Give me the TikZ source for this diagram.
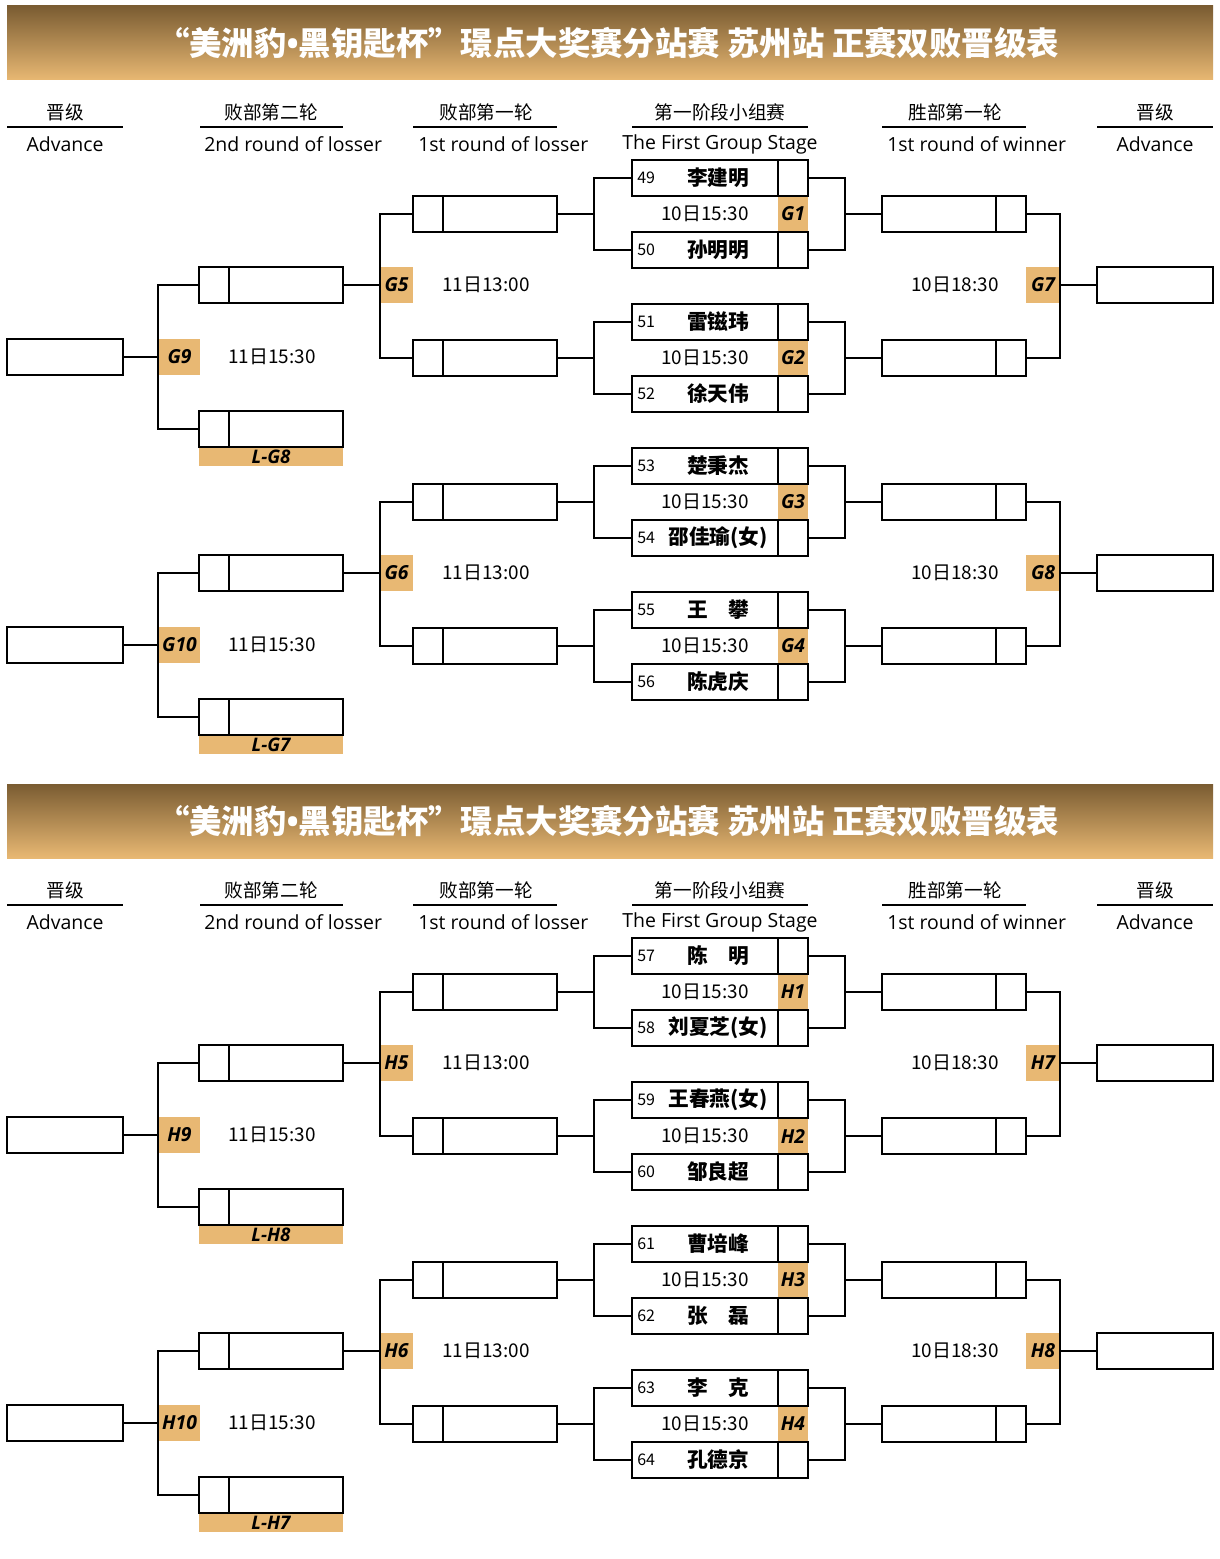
\documentclass[tikz,border=0pt]{standalone}
\usepackage{fontspec}
\setmainfont{Noto Sans CJK SC}
\newfontfamily\gfont{Open Sans}
\definecolor{gold}{RGB}{232,184,115}
\definecolor{hdrtop}{RGB}{122,92,50}
\definecolor{hdrbot}{RGB}{232,184,115}
\tikzset{
 bx/.style={draw=black, line width=0.8pt, inner sep=0pt, minimum height=27pt},
 wd/.style={minimum width=#1*0.75pt},
 gcell/.style={fill=gold, inner sep=0pt, minimum height=27pt, minimum width=#1*0.75pt, font=\gfont\bfseries\itshape\fontsize{14.5}{14.5}\selectfont},
 band/.style={fill=gold, inner sep=0pt, minimum height=13.5pt, minimum width=108pt, font=\gfont\bfseries\itshape\fontsize{14}{14}\selectfont},
 br/.style={line width=2.2pt},
 hrule/.style={line width=1.8pt},
 seedt/.style={inner sep=0pt, anchor=west, font=\fontsize{12}{12}\selectfont},
 pname/.style={inner sep=0pt, font=\bfseries\fontsize{15.5}{16}\selectfont},
 timet/.style={inner sep=0pt, font=\fontsize{14.2}{15}\selectfont},
 hd/.style={inner sep=0pt, font=\fontsize{14}{15}\selectfont},
 he/.style={inner sep=0pt, font=\gfont\fontsize{14.6}{16}\selectfont},
 ttl/.style={inner sep=0pt, text=white, font=\bfseries\fontsize{24.3}{26}\selectfont},
}
\newcommand\grp[7]{%
 \node[timet] (#1t#2) at (705,#3+54) {10日15:30};
 \node[gcell=30] (#1g#2) at (793,#3+54) {#1#2};
 \node[bx,wd=146] (#1na#2) at (705,#3+18) {};
 \node[bx,wd=30] (#1sa#2) at (793,#3+18) {};
 \node[seedt] (#1ka#2) at (637,#3+18) {#4};
 \node[pname] (#1ma#2) at (718,#3+18) {#5};
 \node[bx,wd=146] (#1nb#2) at (705,#3+90) {};
 \node[bx,wd=30] (#1sb#2) at (793,#3+90) {};
 \node[seedt] (#1kb#2) at (637,#3+90) {#6};
 \node[pname] (#1mb#2) at (718,#3+90) {#7};
 \node[bx,wd=30] (#1ls#2) at (428,#3+54) {};
 \node[bx,wd=114] (#1lw#2) at (500,#3+54) {};
 \node[bx,wd=114] (#1wa#2) at (939,#3+54) {};
 \node[bx,wd=30] (#1ws#2) at (1011,#3+54) {};
 \coordinate (#1lb#2) at (594,#3+54);
 \coordinate (#1rb#2) at (845,#3+54);
 \draw[br] (#1na#2.west) -| (#1lb#2) |- (#1nb#2.west);
 \draw[br] (#1lb#2) -- (#1lw#2.east);
 \draw[br] (#1sa#2.east) -| (#1rb#2) |- (#1sb#2.east);
 \draw[br] (#1rb#2) -- (#1wa#2.west);
}
\newcommand\pair[9]{%
 \node[gcell=33] (#1g#3) at (396.5,285+#2) {#1#3};
 \node[timet] (#1t#3) at (486,285+#2) {11日13:00};
 \node[bx,wd=30] (#1as#7) at (214,285+#2) {};
 \node[bx,wd=114] (#1aw#7) at (286,285+#2) {};
 \node[band] (#1bd#7) at (271,457+#2) {L-#1#6};
 \node[bx,wd=30] (#1bs#7) at (214,429+#2) {};
 \node[bx,wd=114] (#1bw#7) at (286,429+#2) {};
 \node[gcell=41] (#1g#5) at (179.5,357+#2) {#1#5};
 \node[timet] (#1t#5) at (272,357+#2) {11日15:30};
 \node[bx,wd=116] (#1al#7) at (65,357+#2) {};
 \node[gcell=34] (#1g#4) at (1043,285+#2) {#1#4};
 \node[timet] (#1t#4) at (955,285+#2) {10日18:30};
 \node[bx,wd=116] (#1ar#7) at (1155,285+#2) {};
 \coordinate (#1lp#7) at (380,285+#2);
 \coordinate (#1fp#7) at (158,357+#2);
 \coordinate (#1wp#7) at (1060,285+#2);
 \draw[br] (#1ls#8.west) -| (#1lp#7) |- (#1ls#9.west);
 \draw[br] (#1lp#7) -- (#1aw#7.east);
 \draw[br] (#1as#7.west) -| (#1fp#7) |- (#1bs#7.west);
 \draw[br] (#1fp#7) -- (#1al#7.east);
 \draw[br] (#1ws#8.east) -| (#1wp#7) |- (#1ws#9.east);
 \draw[br] (#1wp#7) -- (#1ar#7.west);
}
\newcommand\half[9]{%
 \shade[top color=hdrtop, bottom color=hdrbot] (7,6) rectangle (1213,80);
 \node[ttl] (#1title) at (608,43) {“美洲豹{\gfont\bfseries •}黑钥匙杯”璟点大奖赛分站赛 苏州站 正赛双败晋级表};
 \node[hd] (#1h1) at (65,112) {晋级};
 \node[he] (#1e1) at (65,144) {Advance};
 \draw[hrule] (7,127) -- (123,127);
 \node[hd] (#1h2) at (271,112) {败部第二轮};
 \node[he,anchor=west] (#1e2) at (204,144) {2nd round of losser};
 \draw[hrule] (200,127) -- (343,127);
 \node[hd] (#1h3) at (486,112) {败部第一轮};
 \node[he,anchor=west] (#1e3) at (418,144) {1st round of losser};
 \draw[hrule] (413,127) -- (557,127);
 \node[hd] (#1h4) at (720,112) {第一阶段小组赛};
 \node[he] (#1e4) at (720,144) {The First Group Stage};
 \draw[hrule] (632,127) -- (808,127);
 \node[hd] (#1h5) at (955,112) {胜部第一轮};
 \node[he,anchor=west] (#1e5) at (887,144) {1st round of winner};
 \draw[hrule] (882,127) -- (1026,127);
 \node[hd] (#1h6) at (1155,112) {晋级};
 \node[he] (#1e6) at (1155,144) {Advance};
 \draw[hrule] (1097,127) -- (1213,127);
 \grp{#1}{1}{160}{\the\numexpr\seedbase+0\relax}{#2}{\the\numexpr\seedbase+1\relax}{#3}
 \grp{#1}{2}{304}{\the\numexpr\seedbase+2\relax}{#4}{\the\numexpr\seedbase+3\relax}{#5}
 \grp{#1}{3}{448}{\the\numexpr\seedbase+4\relax}{#6}{\the\numexpr\seedbase+5\relax}{#7}
 \grp{#1}{4}{592}{\the\numexpr\seedbase+6\relax}{#8}{\the\numexpr\seedbase+7\relax}{#9}
 \pair{#1}{0}{5}{7}{9}{8}{1}{1}{2}
 \pair{#1}{288}{6}{8}{10}{7}{2}{3}{4}
}
\begin{document}
\begin{tikzpicture}[x=0.75pt,y=-0.75pt]
\useasboundingbox[fill=white] (0,0) rectangle (1220,1559);
\def\seedbase{49}
\half{G}{李建明}{孙明明}{雷镃玮}{徐天伟}{楚秉杰}{邵佳瑜(女)}{王　攀}{陈虎庆}
\begin{scope}[shift={(0,778)}]
\def\seedbase{57}
\half{H}{陈　明}{刘夏芝(女)}{王春燕(女)}{邹良超}{曹培峰}{张　磊}{李　克}{孔德京}
\end{scope}
\end{tikzpicture}
\end{document}
